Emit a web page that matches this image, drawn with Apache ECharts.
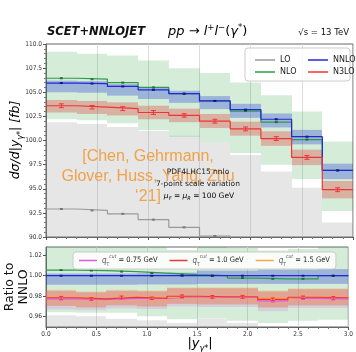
<!DOCTYPE html>
<html>
<head>
<meta charset="utf-8">
<script src="https://cdn.jsdelivr.net/npm/echarts@6/dist/echarts.min.js"></script>
<style>
html, body { margin: 0; padding: 0; background: #fff; }
#chart { width: 356px; height: 352px; }
</style>
</head>
<body>
<div id="chart"></div>
<script>
// bins in |y|
var binEdges = [0, 0.3, 0.6, 0.9, 1.2, 1.5, 1.8, 2.1, 2.4, 2.7, 3.0];
var ratioTicks = [0.96, 0.98, 1.00, 1.02];

// upper panel, dsigma/d|y| [fb]
var loMid = [92.9, 92.75, 92.4, 91.8, 91.0, 90.1, 89.0, 87.6, 85.8, 82.5];
var loHi = [101.9, 101.7, 101.4, 101.0, 100.5, 99.8, 98.5, 96.8, 95.1, 91.5];
var loLo = [84.0, 83.8, 83.5, 83.0, 82.3, 81.4, 80.3, 79.0, 77.3, 74.0];
var nloMid = [106.45, 106.35, 106.0, 105.5, 104.85, 104.1, 103.05, 101.9, 100.1, 96.9];
var nloHi = [109.2, 109.0, 108.8, 108.3, 107.5, 107.0, 106.0, 104.7, 103.0, 99.9];
var nloLo = [102.2, 102.1, 101.8, 101.1, 100.4, 99.8, 98.7, 97.5, 96.0, 92.7];
var nnloMid = [105.95, 105.9, 105.6, 105.25, 104.85, 104.1, 103.2, 102.2, 100.4, 96.9];
var nnloHi = [106.2, 106.15, 105.85, 105.5, 105.15, 104.6, 103.8, 102.8, 101.1, 97.6];
var nnloLo = [105.0, 104.95, 104.65, 104.3, 103.9, 103.25, 102.35, 101.35, 99.6, 96.0];
var n3loMid = [103.6, 103.45, 103.3, 102.9, 102.6, 102.0, 101.2, 100.2, 98.25, 94.9];
var n3loHi = [104.2, 104.1, 103.95, 103.6, 103.3, 102.75, 101.95, 100.95, 99.05, 95.8];
var n3loLo = [102.9, 102.75, 102.6, 102.2, 101.9, 101.3, 100.5, 99.45, 97.45, 94.0];
var n3loErr = [0.2, 0.18, 0.2, 0.2, 0.18, 0.2, 0.2, 0.2, 0.2, 0.2];
var smallErr = [0.05, 0.05, 0.05, 0.05, 0.05, 0.05, 0.05, 0.05, 0.05, 0.05];

// lower panel, ratio to NNLO
var rLoHi = [0.9615, 0.9605, 0.958, 0.9565, 0.954, 0.9585, 0.954, 0.947, 0.947, 0.944];
var rLoLo = [0.88, 0.88, 0.88, 0.88, 0.88, 0.88, 0.88, 0.88, 0.88, 0.88];
var rNloMid = [1.0055, 1.005, 1.004, 1.0026, 1.001, 1.000, 0.9977, 0.997, 0.997, 1.000];
var rNloHi = [1.031, 1.030, 1.030, 1.029, 1.025, 1.028, 1.027, 1.0245, 1.026, 1.031];
var rNloLo = [0.9645, 0.964, 0.964, 0.9606, 0.9576, 0.9587, 0.956, 0.954, 0.956, 0.957];
var rNnloMid = [1, 1, 1, 1, 1, 1, 1, 1, 1, 1];
var rNnloHi = [1.0022, 1.0022, 1.0022, 1.0025, 1.003, 1.005, 1.005, 1.006, 1.006, 1.0065];
var rNnloLo = [0.9912, 0.9912, 0.9912, 0.9915, 0.9915, 0.992, 0.992, 0.992, 0.992, 0.992];
var rQ075Mid = [0.9775, 0.977, 0.978, 0.978, 0.9795, 0.979, 0.979, 0.9755, 0.978, 0.9775];
var rQ075Hi = [0.985, 0.9835, 0.985, 0.9845, 0.9875, 0.9875, 0.9875, 0.984, 0.9865, 0.9865];
var rQ075Lo = [0.967, 0.9665, 0.968, 0.9675, 0.970, 0.9695, 0.9695, 0.9655, 0.9685, 0.9685];
var rQ10Mid = [0.9785, 0.9775, 0.979, 0.978, 0.980, 0.9795, 0.9795, 0.977, 0.979, 0.9785];
var rQ10Hi = [0.9855, 0.984, 0.9855, 0.985, 0.988, 0.988, 0.988, 0.985, 0.987, 0.987];
var rQ10Lo = [0.9705, 0.969, 0.971, 0.970, 0.9725, 0.972, 0.972, 0.969, 0.971, 0.971];
var rQ15Mid = [0.979, 0.978, 0.9795, 0.9785, 0.980, 0.980, 0.980, 0.978, 0.9795, 0.979];
var rQ15Hi = [0.9865, 0.985, 0.9865, 0.986, 0.989, 0.989, 0.989, 0.986, 0.988, 0.988];
var rQ15Lo = [0.9715, 0.970, 0.972, 0.971, 0.9735, 0.973, 0.973, 0.970, 0.972, 0.972];
var rQErr = [0.0013, 0.0012, 0.0012, 0.0012, 0.0013, 0.0012, 0.0013, 0.0013, 0.0012, 0.0012];
var rSmallErr = [0.0004, 0.0004, 0.0004, 0.0004, 0.0004, 0.0004, 0.0004, 0.0004, 0.0004, 0.0004];
var qLabels = { q075: '0.75', q10: '1.0', q15: '1.5' };

var cLO = '#9a9a9a', cNLO = '#2e9a48', cNNLO = '#2424dd', cN3LO = '#ee3535';
var cQ075 = '#e055e0', cQ10 = '#ee3535', cQ15 = '#ffa546';

function stepData(vals) {
  var d = [];
  for (var i = 0; i < vals.length; i++) d.push([binEdges[i], vals[i]]);
  d.push([binEdges[vals.length], vals[vals.length - 1]]);
  return d;
}

function bandSeries(gi, lo, hi, fill) {
  return {
    type: 'custom', xAxisIndex: gi, yAxisIndex: gi, silent: true, clip: true,
    data: lo.map(function (v, i) { return [binEdges[i], binEdges[i + 1], v, hi[i]]; }),
    renderItem: function (params, api) {
      var a = api.coord([api.value(0), api.value(3)]);
      var b = api.coord([api.value(1), api.value(2)]);
      var x0 = Math.round(a[0]), x1 = Math.round(b[0]);
      var rect = echarts.graphic.clipRectByRect({ x: x0, y: a[1], width: x1 - x0, height: b[1] - a[1] }, params.coordSys);
      return rect && { type: 'rect', shape: rect, style: { fill: fill } };
    }
  };
}

function lineSeries(gi, name, vals, color) {
  return {
    type: 'line', name: name, xAxisIndex: gi, yAxisIndex: gi, data: stepData(vals),
    step: 'end', symbol: 'none', clip: true, silent: true, z: 4,
    lineStyle: { color: color, width: 1.2 }, itemStyle: { color: color }
  };
}

function errSeries(gi, vals, errs, color, cap) {
  return {
    type: 'custom', xAxisIndex: gi, yAxisIndex: gi, silent: true, clip: true, z: 5,
    data: vals.map(function (v, i) { return [(binEdges[i] + binEdges[i + 1]) / 2, v, errs[i]]; }),
    renderItem: function (params, api) {
      var x = api.value(0), v = api.value(1), e = api.value(2);
      var t = api.coord([x, v + e]), b = api.coord([x, v - e]);
      var st = { stroke: color, lineWidth: 1 };
      return {
        type: 'group', children: [
          { type: 'line', shape: { x1: t[0], y1: t[1], x2: b[0], y2: b[1] }, style: st },
          { type: 'line', shape: { x1: t[0] - cap, y1: t[1], x2: t[0] + cap, y2: t[1] }, style: st },
          { type: 'line', shape: { x1: b[0] - cap, y1: b[1], x2: b[0] + cap, y2: b[1] }, style: st }
        ]
      };
    }
  };
}

var labelFont = { fontSize: 6.5, color: '#333', fontFamily: 'DejaVu Sans Condensed, DejaVu Sans' };
var narrow = '"DejaVu Sans Condensed", "Liberation Sans Narrow", "Liberation Sans"';
var legendRich = {
  q: { fontSize: 8, fontStyle: 'italic', lineHeight: 13, fontFamily: narrow },
  sub: { fontSize: 5, lineHeight: 6, verticalAlign: 'bottom', fontFamily: narrow },
  sup: { fontSize: 5, lineHeight: 6, verticalAlign: 'top', fontStyle: 'italic', fontFamily: narrow },
  n: { fontSize: 7.5, lineHeight: 13, fontFamily: narrow, color: '#222' }
};

var chart = echarts.init(document.getElementById('chart'));
var option = {
  animation: false,
  grid: [
    { left: 46, right: 3, top: 44, height: 193, show: true, borderColor: '#666', borderWidth: 1, backgroundColor: '#fff' },
    { left: 46, right: 3, top: 247, height: 80, show: true, borderColor: '#666', borderWidth: 1, backgroundColor: '#fff' }
  ],
  xAxis: [
    {
      gridIndex: 0, type: 'value', min: 0, max: 3, interval: 0.5,
      axisLine: { lineStyle: { color: '#666' } },
      axisLabel: { show: false },
      axisTick: { length: 3, lineStyle: { color: '#555' } },
      minorTick: { show: true, splitNumber: 5, length: 2, lineStyle: { color: '#777' } },
      splitLine: { show: true, lineStyle: { color: '#d4d4d4', width: 0.8 } }
    },
    {
      gridIndex: 1, type: 'value', min: 0, max: 3, interval: 0.5,
      axisLine: { lineStyle: { color: '#666' } },
      axisLabel: Object.assign({ margin: 4, formatter: function (v) { return v.toFixed(1); } }, labelFont),
      axisTick: { length: 3, lineStyle: { color: '#555' } },
      minorTick: { show: true, splitNumber: 5, length: 2, lineStyle: { color: '#777' } },
      splitLine: { show: true, lineStyle: { color: '#d4d4d4', width: 0.8 } }
    }
  ],
  yAxis: [
    {
      gridIndex: 0, type: 'value', min: 90, max: 110, interval: 2.5,
      axisLine: { show: true, lineStyle: { color: '#666' } },
      axisLabel: Object.assign({ margin: 4, formatter: function (v) { return v.toFixed(1); } }, labelFont),
      axisTick: { show: true, length: 3, lineStyle: { color: '#555' } },
      minorTick: { show: true, splitNumber: 5, length: 2, lineStyle: { color: '#777' } },
      splitLine: { show: false }
    },
    {
      gridIndex: 1, type: 'value', min: 0.95, max: 1.028,
      axisLine: { show: true, lineStyle: { color: '#666' } },
      axisLabel: Object.assign({ margin: 4, customValues: ratioTicks, formatter: function (v) { return v.toFixed(2); } }, labelFont),
      axisTick: { show: true, length: 3, customValues: ratioTicks, lineStyle: { color: '#555' } },
      splitLine: { show: false }
    }
  ],
  legend: [
    {
      data: ['LO', 'NLO'], left: 250, top: 51, orient: 'vertical', itemGap: 4,
      itemWidth: 20, itemHeight: 1.5, icon: 'rect', z: 20,
      textStyle: { fontSize: 8, fontFamily: 'DejaVu Sans', color: '#222' }
    },
    {
      data: ['NNLO', 'N3LO'], left: 303, top: 51, orient: 'vertical', itemGap: 4,
      itemWidth: 20, itemHeight: 1.5, icon: 'rect', z: 20,
      textStyle: { fontSize: 8, fontFamily: 'DejaVu Sans', color: '#222' }
    },
    {
      data: ['q075', 'q10', 'q15'], left: 73, right: 0, top: 252, orient: 'horizontal', itemGap: 12,
      itemWidth: 18, itemHeight: 1.5, icon: 'rect', z: 20, padding: [2, 6, 2, 6],
      backgroundColor: 'rgba(255,255,255,0.85)', borderColor: '#ccc', borderWidth: 1, borderRadius: 3,
      formatter: function (name) {
        return '{q|q}{sub|T}{sup|cut}{n| = ' + qLabels[name] + ' GeV}';
      },
      textStyle: { rich: legendRich }
    }
  ],
  graphic: [
    // legend box upper panel
    { type: 'rect', z: 10, shape: { x: 245, y: 48, width: 105, height: 33, r: 3 }, style: { fill: 'rgba(255,255,255,0.85)', stroke: '#ccc', lineWidth: 1 } },
    { type: 'text', z: 100, x: 47, y: 32, style: { text: 'SCET+NNLOJET', font: 'italic bold 11.5px "DejaVu Sans"', fill: '#111', verticalAlign: 'middle' } },
    {
      type: 'text', z: 100, x: 168, y: 32,
      style: {
        text: '{i|pp}{n| → }{i|l}{sup|+}{i|l}{sup|−}{n|(}{i|γ}{sup|*}{n|)}', verticalAlign: 'middle',
        rich: {
          i: { fontSize: 13, fontStyle: 'italic', lineHeight: 18, fontFamily: 'DejaVu Sans' },
          n: { fontSize: 13, lineHeight: 18, fontFamily: 'DejaVu Sans' },
          sup: { fontSize: 8.5, lineHeight: 10, verticalAlign: 'top', fontFamily: 'DejaVu Sans' }
        }
      }
    },
    { type: 'text', z: 100, x: 349, y: 33, style: { text: '√s = 13 TeV', font: '8.5px "DejaVu Sans"', fill: '#111', align: 'right', verticalAlign: 'middle' } },
    {
      type: 'text', z: 100, x: 16, y: 140, rotation: Math.PI / 2,
      style: {
        text: '{i|dσ/d|y}{sub|γ*}{i|| [fb]}', align: 'center', verticalAlign: 'middle',
        rich: {
          i: { fontSize: 12.5, fontStyle: 'italic', lineHeight: 18, fontFamily: 'DejaVu Sans' },
          sub: { fontSize: 8, lineHeight: 10, verticalAlign: 'bottom', fontStyle: 'italic', fontFamily: 'DejaVu Sans' }
        }
      }
    },
    {
      type: 'text', z: 100, x: 17, y: 287, rotation: Math.PI / 2,
      style: { text: 'Ratio to\nNNLO', font: '12.5px "DejaVu Sans"', lineHeight: 14, fill: '#111', align: 'center', verticalAlign: 'middle' }
    },
    {
      type: 'text', z: 100, x: 200, y: 344,
      style: {
        text: '{n||}{i|y}{sub|γ*}{n||}', align: 'center', verticalAlign: 'middle',
        rich: {
          i: { fontSize: 13, fontStyle: 'italic', lineHeight: 18, fontFamily: 'DejaVu Sans' },
          n: { fontSize: 13, lineHeight: 18, fontFamily: 'DejaVu Sans' },
          sub: { fontSize: 8, lineHeight: 10, verticalAlign: 'bottom', fontStyle: 'italic', fontFamily: 'DejaVu Sans' }
        }
      }
    },
    // citation
    {
      type: 'text', z: 100, x: 148, y: 177,
      style: { text: '[Chen, Gehrmann,\nGlover, Huss, Yang, Zhu\n‘21]', font: '16px "Liberation Sans"', lineHeight: 20, fill: '#f29a3a', opacity: 0.9, align: 'center', verticalAlign: 'middle' }
    },
    { type: 'text', z: 100, x: 198, y: 172, style: { text: 'PDF4LHC15 nnlo', font: '7.5px "DejaVu Sans"', fill: '#222', align: 'center', verticalAlign: 'middle' } },
    { type: 'text', z: 100, x: 198, y: 184, style: { text: '7-point scale variation', font: '7.5px "DejaVu Sans"', fill: '#222', align: 'center', verticalAlign: 'middle' } },
    {
      type: 'text', z: 100, x: 199, y: 196,
      style: {
        text: '{i|μ}{sub|F}{n| = }{i|μ}{sub|R}{n| = 100 GeV}', align: 'center', verticalAlign: 'middle',
        rich: {
          i: { fontSize: 7.5, fontStyle: 'italic', lineHeight: 11, fontFamily: 'DejaVu Sans', color: '#222' },
          n: { fontSize: 7.5, lineHeight: 11, fontFamily: 'DejaVu Sans', color: '#222' },
          sub: { fontSize: 5, lineHeight: 6, verticalAlign: 'bottom', fontStyle: 'italic', fontFamily: 'DejaVu Sans', color: '#222' }
        }
      }
    }
  ],
  series: [
    // upper panel
    bandSeries(0, loLo, loHi, 'rgba(150,150,150,0.24)'),
    bandSeries(0, nloLo, nloHi, 'rgba(40,160,60,0.2)'),
    bandSeries(0, nnloLo, nnloHi, 'rgba(30,50,220,0.3)'),
    bandSeries(0, n3loLo, n3loHi, 'rgba(230,40,40,0.3)'),
    lineSeries(0, 'LO', loMid, cLO),
    lineSeries(0, 'NLO', nloMid, cNLO),
    lineSeries(0, 'NNLO', nnloMid, cNNLO),
    lineSeries(0, 'N3LO', n3loMid, cN3LO),
    errSeries(0, loMid, smallErr, '#777', 1.5),
    errSeries(0, nloMid, smallErr, '#1e6e30', 1.5),
    errSeries(0, nnloMid, smallErr, '#12128a', 1.5),
    errSeries(0, n3loMid, n3loErr, cN3LO, 2.5),
    // ratio panel
    bandSeries(1, rLoLo, rLoHi, 'rgba(150,150,150,0.24)'),
    bandSeries(1, rNloLo, rNloHi, 'rgba(40,160,60,0.2)'),
    bandSeries(1, rNnloLo, rNnloHi, 'rgba(30,50,220,0.3)'),
    bandSeries(1, rQ075Lo, rQ075Hi, 'rgba(220,100,220,0.2)'),
    bandSeries(1, rQ10Lo, rQ10Hi, 'rgba(230,40,40,0.25)'),
    bandSeries(1, rQ15Lo, rQ15Hi, 'rgba(255,160,60,0.22)'),
    lineSeries(1, 'NLO ratio', rNloMid, cNLO),
    lineSeries(1, 'NNLO ratio', rNnloMid, cNNLO),
    lineSeries(1, 'q075', rQ075Mid, cQ075),
    lineSeries(1, 'q15', rQ15Mid, cQ15),
    lineSeries(1, 'q10', rQ10Mid, cQ10),
    errSeries(1, rNloMid, rSmallErr, '#1e6e30', 1.5),
    errSeries(1, rNnloMid, rSmallErr, '#12128a', 1.5),
    errSeries(1, rQ075Mid, rQErr, cQ075, 2),
    errSeries(1, rQ15Mid, rQErr, cQ15, 2),
    errSeries(1, rQ10Mid, rQErr, cQ10, 2)
  ]
};
chart.setOption(option);
</script>
</body>
</html>
